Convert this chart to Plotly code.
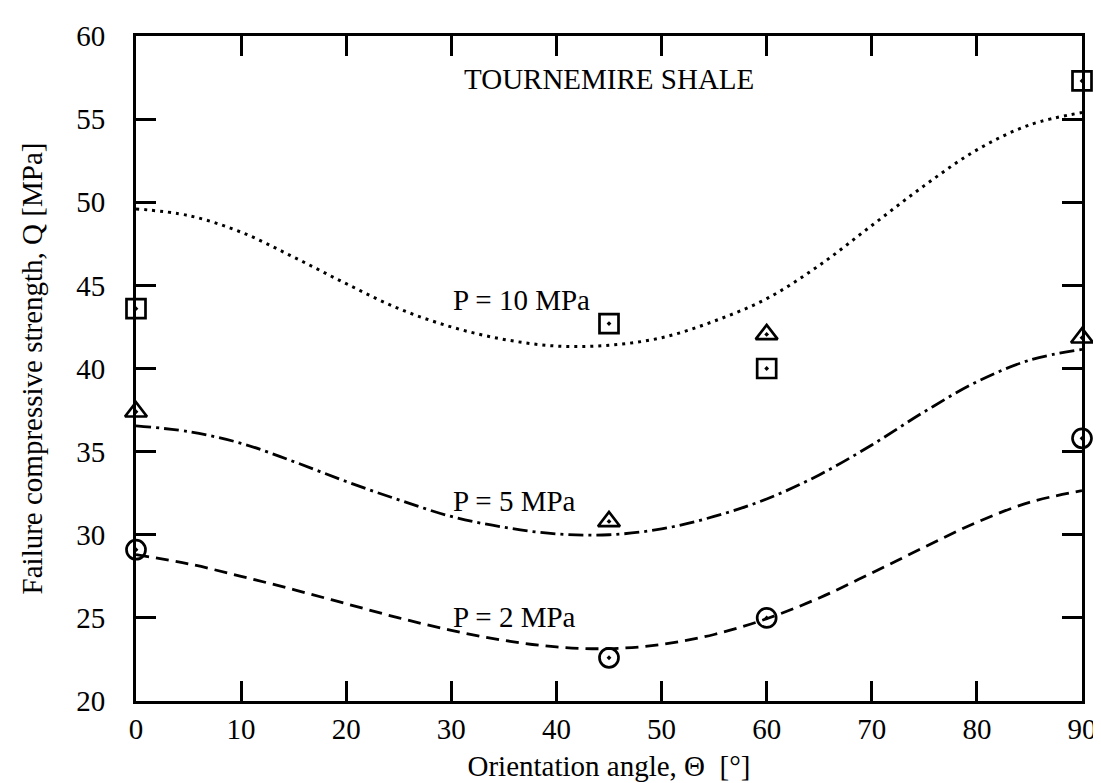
import plotly.graph_objects as go

# Experimental data (orientation angle in degrees, strength in MPa)
theta_exp = [0, 45, 60, 90]
q_p10_exp = [43.6, 42.7, 40.0, 57.3]   # squares
q_p5_exp = [37.4, 30.8, 42.05, 41.85]  # triangles
q_p2_exp = [29.1, 22.6, 25.0, 35.8]    # circles

# Model curves
theta_fit = [0, 5, 10, 15, 20, 25, 30, 35, 40, 45, 50, 55, 60, 65, 70, 75, 80, 85, 90]
q_p10_fit = [49.6, 49.2, 48.2, 46.7, 45.1, 43.6, 42.5, 41.75, 41.35, 41.4, 41.85, 42.85,
             44.2, 46.2, 48.6, 51.0, 53.15, 54.65, 55.4]
q_p5_fit = [36.55, 36.2, 35.5, 34.4, 33.2, 32.1, 31.1, 30.45, 30.05, 30.0, 30.35, 31.1,
            32.15, 33.6, 35.4, 37.4, 39.2, 40.5, 41.15]
q_p2_fit = [28.8, 28.25, 27.5, 26.7, 25.85, 25.0, 24.25, 23.65, 23.25, 23.15, 23.4, 24.0,
            24.95, 26.2, 27.7, 29.25, 30.75, 31.95, 32.65]

labels = ["P = 10 MPa", "P = 5 MPa", "P = 2 MPa"]
label_x = [30, 30, 30]
label_y = [44.1, 32.05, 25.05]

FONT = "Liberation Serif, Times New Roman, serif"
FS = 29

fig = go.Figure()

line_w = 2.8
fig.add_trace(go.Scatter(x=theta_fit, y=q_p10_fit, mode="lines", line_shape="spline",
                         line=dict(color="black", width=3, dash="3px,5px"),
                         showlegend=False, hoverinfo="skip"))
fig.add_trace(go.Scatter(x=theta_fit, y=q_p5_fit, mode="lines", line_shape="spline",
                         line=dict(color="black", width=line_w, dash="15px,5px,3px,5px"),
                         showlegend=False, hoverinfo="skip"))
fig.add_trace(go.Scatter(x=theta_fit, y=q_p2_fit, mode="lines", line_shape="spline",
                         line=dict(color="black", width=line_w, dash="13px,7px"),
                         showlegend=False, hoverinfo="skip"))

mk_line = dict(color="black", width=2.7)
fig.add_trace(go.Scatter(x=theta_exp, y=q_p10_exp, mode="markers", cliponaxis=False,
                         marker=dict(symbol="square-open-dot", size=19, color="black", line=mk_line),
                         showlegend=False))
fig.add_trace(go.Scatter(x=theta_exp, y=q_p5_exp, mode="markers", cliponaxis=False,
                         marker=dict(symbol="triangle-up-open-dot", size=19, color="black", line=mk_line),
                         showlegend=False))
fig.add_trace(go.Scatter(x=theta_exp, y=q_p2_exp, mode="markers", cliponaxis=False,
                         marker=dict(symbol="circle-open-dot", size=19, color="black", line=mk_line),
                         showlegend=False))

for t, xx, yy in zip(labels, label_x, label_y):
    fig.add_annotation(x=xx, y=yy, text=t, showarrow=False, xanchor="left", yanchor="middle",
                       font=dict(family=FONT, size=FS, color="black"))

fig.add_annotation(x=45, y=57.4, text="TOURNEMIRE SHALE", showarrow=False,
                   xanchor="center", yanchor="middle",
                   font=dict(family=FONT, size=FS, color="black"))

axis_common = dict(showgrid=False, zeroline=False, showline=True, linecolor="black",
                   linewidth=3, ticks="inside", ticklen=20, tickwidth=3, tickcolor="black",
                   mirror="ticks", tickfont=dict(family=FONT, size=FS, color="black"))

fig.update_xaxes(range=[0, 90], tick0=0, dtick=10,
                 title=dict(text="Orientation angle, \u0398  [\u00b0]", standoff=12,
                            font=dict(family=FONT, size=FS, color="black")),
                 **axis_common)
fig.update_yaxes(range=[20, 60], tick0=20, dtick=5, ticklabelstandoff=22,
                 title=dict(text="Failure compressive strength, Q [MPa]", standoff=26,
                            font=dict(family=FONT, size=FS, color="black")),
                 **axis_common)

fig.update_layout(width=1101, height=783, plot_bgcolor="white", paper_bgcolor="white",
                  margin=dict(l=128, r=23, t=23, b=90), showlegend=False)

fig.write_html("out.html")
